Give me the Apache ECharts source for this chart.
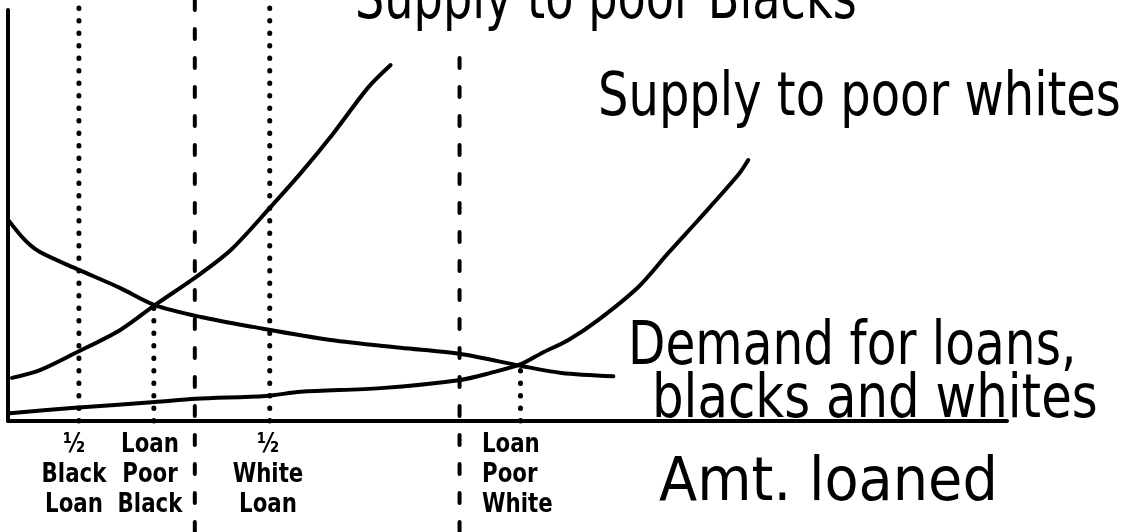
<!DOCTYPE html>
<html>
<head>
<meta charset="utf-8">
<script src="https://cdn.jsdelivr.net/npm/echarts@6/dist/echarts.min.js"></script>
<style>html,body{margin:0;padding:0;background:#fff}#c{width:1128px;height:532px}</style>
</head>
<body>
<div id="c"></div>
<script>
// Amount loaned (x, 0-100) vs. interest rate (y, 0-100)
const demand = [[0,49],[1.7,44],[3.2,41.1],[6.7,37.2],[11.2,32.4],[14.7,28.2],[19.3,25.3],[24.5,22.9],[32.3,19.7],[39.3,17.8],[45.3,16.3],[51.4,13.4],[55.4,11.7],[60.6,10.9]];
const supplyBlacks = [[0.4,10.5],[3.2,12.4],[6.7,16.5],[11.2,22.1],[14.7,28.2],[18.8,35.0],[22.3,41.6],[26.3,52.1],[29.3,60.3],[32.6,70.1],[36.0,81.0],[38.3,86.6]];
const supplyWhites = [[0.2,1.9],[6.7,3.2],[14.7,4.6],[18.8,5.4],[25.8,6.1],[29.3,7.1],[37.3,8.0],[45.3,10.0],[48.3,11.7],[51.4,13.9],[53.4,16.5],[56.1,19.7],[59.1,24.6],[63.1,32.6],[66.1,40.9],[69.1,48.9],[73.1,59.9],[74.1,63.5]];
// guide lines: x position, from y, to y
const dottedX = [7.1, 14.6, 26.2, 51.3];
const dottedFrom = [0, 0, 0, 0];
const dottedTo = [101.7, 28.2, 102.4, 13.6];
const dashedX = [18.7, 45.2];
const dashedFrom = [-27, -27];
const dashedTo = [102.4, 89];
// labels
const curveLabels = ['Supply to poor Blacks', 'Supply to poor whites', 'Demand for loans,', 'blacks and whites', 'Amt. loaned'];
const tickLabels = ['½\nBlack\nLoan', 'Loan\nPoor\nBlack', '½\nWhite\nLoan', 'Loan\nPoor\nWhite'];

const chart = echarts.init(document.getElementById('c'), null, {renderer:'canvas'});
const curveStyle = {color:'#000', width:4, cap:'round', join:'round'};
const series = [
  {type:'line', data:demand, smooth:0.3, symbol:'none', clip:false, lineStyle:curveStyle},
  {type:'line', data:supplyBlacks, smooth:0.3, symbol:'none', clip:false, lineStyle:curveStyle},
  {type:'line', data:supplyWhites, smooth:0.3, symbol:'none', clip:false, lineStyle:curveStyle}
];
dottedX.forEach((x,i)=>series.push({type:'line', data:[[x,dottedFrom[i]],[x,dottedTo[i]]], symbol:'none', clip:false,
  lineStyle:{color:'#000', width:5, type:[0.5,12], cap:'round'}}));
dashedX.forEach((x,i)=>series.push({type:'line', data:[[x,dashedFrom[i]],[x,dashedTo[i]]], symbol:'none', clip:false,
  lineStyle:{color:'#000', width:4, type:[10,19], cap:'round'}}));

const bigFont = '60px "DejaVu Sans", sans-serif';
function big(text, x, y, sx){
  return {type:'text', x:x, y:y, scaleX:sx, style:{text:text, font:bigFont, fill:'#000', textAlign:'left', textVerticalAlign:'middle', verticalAlign:'middle'}};
}
const smallFont = 'bold 26px "DejaVu Sans", sans-serif';
function small(text, x, align){
  return {type:'text', x:x, y:430, scaleX:0.82, style:{text:text, font:smallFont, fill:'#000', textAlign:align, verticalAlign:'top', textVerticalAlign:'top', lineHeight:30}};
}

chart.setOption({
  animation:false,
  backgroundColor:'#fff',
  grid:{left:8, right:121, top:10, bottom:111},
  xAxis:{type:'value', min:0, max:100, axisLine:{lineStyle:{color:'#000', width:4}}, axisTick:{show:false}, axisLabel:{show:false}, splitLine:{show:false}},
  yAxis:{type:'value', min:0, max:100, axisLine:{show:true, lineStyle:{color:'#000', width:4}}, axisTick:{show:false}, axisLabel:{show:false}, splitLine:{show:false}},
  series:series,
  graphic:[
    big(curveLabels[0], 355, 2, 0.77),
    big(curveLabels[1], 598, 99, 0.80),
    big(curveLabels[2], 628, 348, 0.81),
    big(curveLabels[3], 652, 401, 0.83),
    big(curveLabels[4], 659, 484, 0.93),
    small(tickLabels[0], 74, 'center'),
    small(tickLabels[1], 150, 'center'),
    small(tickLabels[2], 268, 'center'),
    small(tickLabels[3], 482, 'left')
  ]
});
</script>
</body>
</html>
